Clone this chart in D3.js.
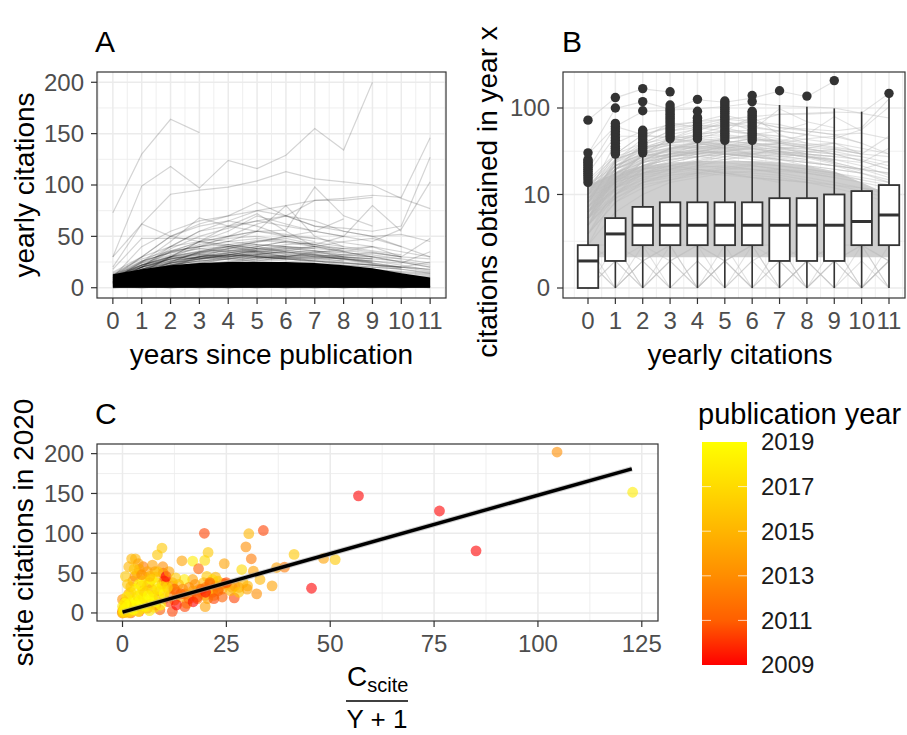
<!DOCTYPE html>
<html>
<head>
<meta charset="utf-8">
<script src="https://cdn.jsdelivr.net/npm/d3@7"></script>
<style>
  body { margin: 0; background: #fff; }
  svg { font-family: "Liberation Sans", Arial, sans-serif; }
</style>
</head>
<body>
<svg id="fig" width="907" height="735"></svg>
<script>
// ---- data ----
const yearTicks = [0, 1, 2, 3, 4, 5, 6, 7, 8, 9, 10, 11];

// panel A: yearly citations per paper, index = years since publication
const trajHigh = [
  [73, 130, 164, 151],
  [30, 99, 118, 97, 124, 116, 129, 155, 134, 200],
  [20, 62, 91, 95, 98, 104, 113, 106, 103, 100, 87, 77],
  [12, 30, 50, 62, 70, 75, 80, 85, 87, 90, 88, 146],
  [8, 25, 40, 55, 60, 65, 70, 60, 58, 55, 60, 127],
  [10, 22, 35, 45, 55, 70, 62, 55, 50, 45, 57, 103],
  [5, 15, 30, 45, 50, 55, 56, 98, 70, 60],
  [10, 30, 50, 60, 65, 75, 70, 85, 85, 88],
  [6, 20, 35, 40, 45, 55, 80, 50, 40],
  [4, 18, 30, 45, 60, 72, 55, 40, 35, 30, 25, 20],
  [10, 40, 55, 65, 70, 83, 70, 60, 55, 50, 52, 45],
  [30, 62, 50, 45, 40, 35, 30],
  [18, 48, 48, 48, 45, 42],
  [5, 10, 15, 20, 25, 30, 30, 35, 35, 40, 30, 48],
  [3, 12, 25, 35, 40, 45, 50, 55, 67],
  [2, 10, 20, 30, 35, 40, 45, 42, 50, 80, 55],
  [8, 25, 45, 68, 60, 55, 50, 45],
  [6, 20, 40, 55, 65, 60, 50],
  [5, 20, 38, 50, 58, 65, 60, 55, 50],
  [4, 15, 30, 40, 50, 62, 70, 65, 55, 50, 40]
];
const trajMid = [
  [8, 18, 25, 30, 28, 32, 30, 26, 22, 20, 18, 15],
  [10, 20, 30, 35, 38, 40, 35, 30, 28, 25],
  [6, 15, 22, 28, 32, 30, 28, 25],
  [12, 25, 35, 40, 42, 38, 35],
  [5, 12, 20, 25, 30, 35, 38, 40, 35, 30, 25, 20],
  [7, 18, 28, 33, 36, 40, 45, 42, 38, 35, 30],
  [9, 22, 30, 36, 40, 42, 40, 36, 30],
  [4, 10, 18, 22, 25, 28, 30, 32, 30, 28, 26, 22],
  [11, 24, 32, 38, 35, 30, 28],
  [6, 14, 22, 30, 38, 45, 48, 42, 36],
  [8, 20, 26, 30, 32, 35, 38, 36, 32, 30, 28],
  [5, 16, 24, 28, 30, 33, 35, 32, 28, 24, 20, 18],
  [14, 28, 36, 40, 45, 48, 45],
  [3, 8, 14, 18, 22, 26, 30, 34, 38, 40, 35, 30],
  [7, 16, 22, 26, 30, 32, 30, 28, 30, 28],
  [10, 26, 34, 42, 48, 50, 46, 40],
  [6, 12, 20, 24, 28, 26, 24, 22, 20, 18, 16, 14],
  [4, 14, 24, 30, 34, 38, 42, 44, 40, 36, 32],
  [12, 20, 28, 32, 36, 34, 30, 28, 26],
  [8, 22, 30, 28, 32, 36, 40, 38],
  [5, 18, 26, 34, 40, 44, 50, 48, 44, 40],
  [9, 14, 18, 22, 26, 30, 28, 26, 24, 22, 20, 25],
  [15, 30, 40, 45, 42, 38],
  [7, 20, 28, 32, 30, 28, 26, 24, 22, 20, 18],
  [3, 10, 16, 20, 24, 28, 32, 30, 28, 26, 24, 35],
  [10, 18, 24, 28, 32, 36, 34, 32, 30, 28],
  [6, 16, 25, 35, 42, 46, 44, 40, 38],
  [8, 24, 36, 44, 50, 55, 52, 48],
  [4, 12, 18, 24, 28, 32, 36, 40, 45, 48, 40, 30],
  [11, 22, 28, 30, 32, 30, 28, 26, 24, 22, 20],
  [5, 15, 20, 22, 24, 26, 28, 30, 32, 34, 30, 28],
  [13, 26, 34, 38, 40, 36],
  [7, 14, 22, 28, 34, 38, 36, 34, 32, 30],
  [9, 20, 28, 34, 38, 42, 40, 38, 36, 34, 30],
  [6, 18, 24, 28, 30, 32, 34, 36, 34, 32, 28, 24],
  [10, 22, 30, 34, 36, 38, 40],
  [12, 18, 22, 26, 28, 30, 32, 30, 28, 26],
  [8, 16, 22, 26, 28, 30, 28, 26, 24, 22, 20, 18],
  [6, 12, 16, 18, 20, 18, 16, 15, 14, 12, 10, 8],
  [4, 10, 14, 16, 18, 20, 22, 20, 18, 16, 14, 12],
  [8, 14, 18, 20, 20, 18, 16, 14],
  [5, 9, 13, 15, 17, 19, 18, 17, 15, 13, 11, 9],
  [3, 8, 12, 15, 18, 20, 20, 18, 16, 14, 12, 10],
  [7, 13, 17, 19, 21, 22, 20, 18],
  [9, 16, 20, 22, 20, 18, 17, 16, 14],
  [2, 6, 10, 14, 16, 18, 19, 20, 19, 17, 15, 13],
  [6, 11, 15, 17, 18, 17, 16, 15, 14, 13, 12, 11],
  [10, 15, 18, 20, 22, 21, 20, 19, 18],
  [4, 9, 14, 17, 19, 21, 23, 22, 20, 18, 15],
  [5, 12, 17, 21, 23, 24, 22, 20, 18, 16],
  [9, 18, 26, 30, 33, 31, 29, 27, 25, 22, 18, 14],
  [7, 15, 24, 31, 34, 36, 33, 31, 28, 24, 20, 16],
  [11, 20, 27, 29, 31, 33, 35, 32, 27, 23, 19],
  [6, 17, 29, 33, 30, 34, 37, 33, 29, 25],
  [13, 22, 31, 35, 37, 35, 31, 29, 26],
  [5, 13, 21, 27, 32, 37, 39, 35, 30, 26, 22, 17]
];
const trajLow = [
  [0, 1, 2, 1, 0, 1, 2, 1, 0, 1, 2, 1],
  [2, 0, 1, 2, 0, 1, 2, 0, 1, 2, 0, 1],
  [1, 2, 0, 1, 2, 0, 1, 2, 0, 1, 2, 0],
  [0, 2, 0, 2, 0, 2, 0, 2, 0, 2, 0, 2],
  [2, 1, 0, 1, 2, 1, 0, 1, 2, 1, 0, 1],
  [1, 0, 2, 0, 1, 0, 2, 0, 1, 0, 2, 0],
  [0, 0, 1, 2, 2, 1, 0, 0, 1, 2, 2, 1],
  [2, 2, 1, 0, 0, 1, 2, 2, 1, 0, 0, 1],
  [0, 1, 0, 1, 0, 1, 0, 1, 0, 1, 0, 1],
  [1, 0, 1, 0, 1, 0, 1, 0, 1, 0, 1, 0]
];
// upper edge of the solid mass of overlapping low-citation papers
const coreTop = [13, 18, 22, 24, 25, 25, 25, 24, 22, 19, 14, 10];

// panel B: boxplot statistics per year
const boxLo = [0, 0, 0, 0, 0, 0, 0, 0, 0, 0, 0, 0];
const boxQ1 = [0, 1, 2, 2, 2, 2, 2, 1, 1, 1, 2, 2];
const boxMed = [1, 3, 4, 4, 4, 4, 4, 4, 4, 4, 4.5, 5.5];
const boxQ3 = [2, 5, 7, 8, 8, 8, 8, 9, 9, 10, 11, 13];
const boxHi = [13, 28, 30, 43, 43, 42, 42, 108, 103, 99, 91, 134];
const boxOut = [
  [14, 15, 16, 17, 18, 19, 20, 21, 22, 23, 24, 25, 26, 31, 73],
  [30, 31, 33, 35, 37, 40, 43, 46, 50, 54, 58, 62, 67, 100, 131],
  [31, 33, 35, 37, 39, 41, 44, 47, 50, 53, 56, 93, 118, 165],
  [45, 48, 51, 54, 57, 60, 64, 68, 72, 76, 80, 85, 90, 95, 100, 108, 152],
  [45, 48, 51, 54, 57, 60, 64, 68, 72, 76, 78, 92, 125],
  [43, 46, 49, 52, 55, 58, 62, 66, 70, 74, 78, 82, 87, 92, 97, 102, 108, 114, 120],
  [43, 46, 49, 52, 55, 58, 62, 66, 70, 74, 78, 83, 88, 92, 118, 138],
  [156],
  [136],
  [203],
  [],
  [146]
];

// panel C: [C_scite / (Y + 1), scite citations in 2020, publication year]
const papers = [
  [104.6, 202, 2013], [122.8, 151.5, 2018], [76.3, 128, 2009], [85.1, 78, 2009],
  [56.8, 147, 2009], [45.5, 31, 2009], [51.2, 67, 2016], [48.4, 68.5, 2014],
  [41.3, 73.5, 2016], [39, 57.5, 2012], [37.1, 57, 2014], [36, 34, 2014],
  [33.9, 103.5, 2010], [30.4, 99.5, 2015], [29.7, 83, 2013], [31, 68, 2012],
  [31.5, 52.5, 2014], [28.7, 54.5, 2017], [33.1, 42, 2015], [30.1, 34, 2015],
  [32.3, 24, 2013], [26.9, 19, 2010], [24.5, 62, 2014], [24.3, 37, 2011],
  [20.6, 76, 2016], [19.7, 100, 2010], [19.8, 66, 2017], [20.3, 46, 2016],
  [22.4, 45, 2015], [19.9, 8, 2014], [16.9, 65, 2018], [14.3, 65.5, 2014],
  [18.3, 55.5, 2011], [9.5, 81.5, 2016], [8.4, 73, 2016], [3.1, 68, 2015],
  [2.2, 68, 2015], [0.7, 46, 2016], [9.8, 50, 2010], [9.7, 58, 2013],
  [7.8, 52, 2014], [5, 58, 2012], [16.9, 42, 2014], [14.9, 42, 2018],
  [12, 38, 2014], [21.7, 42, 2017], [26.4, 32, 2014], [28, 32, 2013],
  [21.7, 26, 2011], [23.3, 32, 2012], [19.9, 22, 2014],
  [0, 2, 2012], [0.3, 6, 2013], [0.6, 14, 2014], [0, 17, 2013], [1, 10, 2012],
  [1.5, 24, 2014], [2, 33, 2015], [2.5, 40, 2014], [3, 46, 2013], [3.5, 50, 2015],
  [4, 55, 2014], [4.5, 34, 2012], [5, 28, 2013], [5.5, 45, 2015], [6, 52, 2014],
  [6.5, 38, 2013], [7, 30, 2012], [7.5, 22, 2014], [8, 45, 2015], [8.5, 52, 2016],
  [9, 28, 2013], [9.5, 36, 2014], [10, 18, 2012], [10.5, 42, 2015], [11, 30, 2013],
  [11.5, 22, 2012], [12, 34, 2014], [12.5, 16, 2013], [13, 26, 2012], [13.5, 36, 2015],
  [14, 20, 2014], [14.5, 30, 2013], [15, 24, 2012], [15.5, 12, 2014], [16, 32, 2013],
  [16.5, 22, 2015], [17, 28, 2014], [17.5, 36, 2013], [18, 18, 2012], [18.5, 30, 2014],
  [19, 26, 2013], [19.5, 38, 2015], [20, 32, 2012], [20.5, 18, 2014], [21, 36, 2013],
  [21.5, 28, 2015], [22, 22, 2014], [22.5, 34, 2013], [23, 40, 2016], [24, 30, 2014],
  [25, 36, 2013], [26, 28, 2015], [27, 34, 2014], [28, 26, 2016], [29, 38, 2015],
  [30, 30, 2014],
  [0, 0, 2009], [0.5, 1, 2010], [2, 0, 2011], [4, 2, 2010], [6, 6, 2011],
  [8, 10, 2009], [9, 4, 2011], [10, 40, 2010], [10.5, 46, 2009], [11, 14, 2010],
  [12, 2, 2010], [12.5, 30, 2011], [13, 10, 2009], [14, 24, 2011], [15, 8, 2010],
  [16, 18, 2011], [17, 14, 2009], [18, 20, 2010], [19, 30, 2011], [20, 26, 2009],
  [21, 38, 2011], [22, 18, 2010], [23, 28, 2011], [25, 38, 2010], [24, 20, 2011],
  [0, 0, 2019], [0.2, 2, 2018], [0.4, 4, 2019], [0.6, 1, 2017], [0.8, 6, 2019],
  [1, 3, 2018], [1.2, 9, 2019], [1.4, 0, 2016], [1.6, 5, 2019], [1.8, 12, 2018],
  [2, 2, 2017], [2.2, 8, 2019], [2.4, 15, 2018], [2.6, 4, 2019], [2.8, 10, 2017],
  [3, 18, 2019], [3.2, 6, 2018], [3.4, 13, 2019], [3.6, 21, 2017], [3.8, 2, 2019],
  [4, 9, 2018], [4.2, 16, 2019], [4.4, 24, 2018], [4.6, 5, 2017], [4.8, 12, 2019],
  [5, 19, 2018], [5.3, 27, 2017], [5.6, 8, 2019], [5.9, 15, 2018], [6.2, 22, 2019],
  [6.5, 3, 2018], [6.8, 11, 2017], [7.1, 18, 2019], [7.4, 26, 2018], [7.7, 7, 2017],
  [8, 14, 2019], [8.4, 30, 2018], [8.8, 20, 2017], [9.2, 10, 2019], [9.6, 33, 2018],
  [10, 24, 2019], [3, 30, 2018], [4, 36, 2019], [5, 40, 2018], [6, 34, 2017],
  [7, 42, 2019], [8, 38, 2018], [2, 26, 2017], [1, 20, 2018], [0.5, 12, 2019], [0, 8, 2018],
  [1.5, 58, 2015], [3.8, 62, 2014], [2.8, 55, 2016], [4.6, 48, 2013], [1.2, 36, 2016],
  [6.6, 46, 2015], [7.2, 60, 2014], [11.2, 52, 2014], [12.8, 44, 2016], [10.8, 32, 2017]
];
// linear fit drawn through the scatter (end points)
const fitLine = [[0, 1], [122.6, 181]];
const legendYears = [2009, 2011, 2013, 2015, 2017, 2019];

// ---- drawing ----
const svg = d3.select("#fig");
const tickCol = "#4d4d4d", gridCol = "#ebebeb", frameCol = "#333333";

function gridLines(g, box, xs, ys, w) {
  g.selectAll(null).data(xs).join("line")
    .attr("x1", d => d).attr("x2", d => d).attr("y1", box.top).attr("y2", box.bottom)
    .attr("stroke", gridCol).attr("stroke-width", w);
  g.selectAll(null).data(ys).join("line")
    .attr("y1", d => d).attr("y2", d => d).attr("x1", box.left).attr("x2", box.right)
    .attr("stroke", gridCol).attr("stroke-width", w);
}

function frame(g, box) {
  g.append("rect")
    .attr("x", box.left).attr("y", box.top)
    .attr("width", box.right - box.left).attr("height", box.bottom - box.top)
    .attr("fill", "none").attr("stroke", frameCol).attr("stroke-width", 1.2);
}

function axes(g, box, x, y, xTicks, yTicks) {
  g.selectAll(null).data(xTicks).join("line")
    .attr("x1", d => x(d)).attr("x2", d => x(d))
    .attr("y1", box.bottom).attr("y2", box.bottom + 6)
    .attr("stroke", frameCol).attr("stroke-width", 1.2);
  g.selectAll(null).data(xTicks).join("text")
    .attr("x", d => x(d)).attr("y", box.bottom + 31)
    .attr("text-anchor", "middle").attr("font-size", 24).attr("fill", tickCol)
    .text(d => d);
  g.selectAll(null).data(yTicks).join("line")
    .attr("x1", box.left - 6).attr("x2", box.left)
    .attr("y1", d => y(d)).attr("y2", d => y(d))
    .attr("stroke", frameCol).attr("stroke-width", 1.2);
  g.selectAll(null).data(yTicks).join("text")
    .attr("x", box.left - 13).attr("y", d => y(d)).attr("dy", "0.35em")
    .attr("text-anchor", "end").attr("font-size", 24).attr("fill", tickCol)
    .text(d => d);
}

function title(g, txt, x, y, rotate) {
  g.append("text")
    .attr("transform", `translate(${x},${y})` + (rotate ? " rotate(-90)" : ""))
    .attr("text-anchor", "middle").attr("font-size", 28).attr("fill", "#000")
    .text(txt);
}

function tag(txt, x, y) {
  svg.append("text").attr("x", x).attr("y", y)
    .attr("font-size", 30).attr("fill", "#000").text(txt);
}

const allTraj = trajLow.concat(trajMid, trajHigh);
const halves = yearTicks.map(d => d - 0.5).concat([11.5]);

// ===== panel A =====
const boxA = {left: 97, right: 446, top: 72, bottom: 298};
const aX = d3.scaleLinear().domain([-0.55, 11.55]).range([boxA.left, boxA.right]);
const aY = d3.scaleLinear().domain([-10, 210]).range([boxA.bottom, boxA.top]);
const gA = svg.append("g");
gridLines(gA, boxA, halves.map(aX).filter(v => v > boxA.left), [25, 75, 125, 175].map(aY), 0.8);
gridLines(gA, boxA, yearTicks.map(aX), [0, 50, 100, 150, 200].map(aY), 1.5);

svg.append("clipPath").attr("id", "clipA").append("rect")
  .attr("x", boxA.left).attr("y", boxA.top)
  .attr("width", boxA.right - boxA.left).attr("height", boxA.bottom - boxA.top);
const linesA = gA.append("g").attr("clip-path", "url(#clipA)");
linesA.append("path").datum(coreTop)
  .attr("d", d3.area().x((d, i) => aX(i)).y0(aY(0)).y1(d => aY(d)))
  .attr("fill", "#000");
const lineA = d3.line().x((d, i) => aX(i)).y(d => aY(d));
linesA.selectAll(null).data(allTraj).join("path")
  .attr("d", lineA).attr("fill", "none")
  .attr("stroke", "#000").attr("stroke-opacity", 0.17).attr("stroke-width", 1.2);
frame(gA, boxA);
axes(gA, boxA, aX, aY, yearTicks, [0, 50, 100, 150, 200]);
title(gA, "years since publication", (boxA.left + boxA.right) / 2, 364);
title(gA, "yearly citations", 34, (boxA.top + boxA.bottom) / 2, true);
tag("A", 95, 52);

// ===== panel B =====
const boxB = {left: 563, right: 905, top: 72, bottom: 298};
const bX = d3.scaleLinear().domain([0, 11]).range([588, 889]);
const bY = d3.scaleSymlog().constant(1).domain([0, 100]).range([288, 108]);
const gB = svg.append("g");
const bMaj = [0, 10, 100];
const bMin = [(bY(0) + bY(10)) / 2, (bY(10) + bY(100)) / 2];
gridLines(gB, boxB, halves.map(bX), bMin, 0.8);
gridLines(gB, boxB, yearTicks.map(bX), bMaj.map(bY), 1.5);

svg.append("clipPath").attr("id", "clipB").append("rect")
  .attr("x", boxB.left).attr("y", boxB.top)
  .attr("width", boxB.right - boxB.left).attr("height", boxB.bottom - boxB.top);
const linesB = gB.append("g").attr("clip-path", "url(#clipB)");
linesB.append("path").datum(coreTop)
  .attr("d", d3.area().x((d, i) => bX(i)).y0(bY(1.2)).y1(d => bY(d)))
  .attr("fill", "#cfcfcf");
linesB.selectAll(null).data(allTraj).join("path")
  .attr("d", d3.line().x((d, i) => bX(i)).y(d => bY(d)))
  .attr("fill", "none").attr("stroke", "#bdbdbd")
  .attr("stroke-opacity", 0.45).attr("stroke-width", 1.1);

const bw = (bX(1) - bX(0)) * 0.75;
const boxes = gB.append("g");
yearTicks.forEach((yr, i) => {
  const cx = bX(yr);
  boxes.append("line").attr("x1", cx).attr("x2", cx)
    .attr("y1", bY(boxHi[i])).attr("y2", bY(boxQ3[i]))
    .attr("stroke", frameCol).attr("stroke-width", 1.6);
  boxes.append("line").attr("x1", cx).attr("x2", cx)
    .attr("y1", bY(boxQ1[i])).attr("y2", bY(boxLo[i]))
    .attr("stroke", frameCol).attr("stroke-width", 1.6);
  boxes.append("rect")
    .attr("x", cx - bw / 2).attr("width", bw)
    .attr("y", bY(boxQ3[i])).attr("height", bY(boxQ1[i]) - bY(boxQ3[i]))
    .attr("fill", "#fff").attr("stroke", frameCol).attr("stroke-width", 1.8);
  boxes.append("line").attr("x1", cx - bw / 2).attr("x2", cx + bw / 2)
    .attr("y1", bY(boxMed[i])).attr("y2", bY(boxMed[i]))
    .attr("stroke", frameCol).attr("stroke-width", 3);
  boxes.selectAll(null).data(boxOut[i]).join("circle")
    .attr("cx", cx).attr("cy", d => bY(d)).attr("r", 4.7)
    .attr("fill", frameCol);
});
frame(gB, boxB);
axes(gB, boxB, bX, bY, yearTicks, bMaj);
title(gB, "yearly citations", 740, 364);
title(gB, "citations obtained in year x", 497, 192, true);
tag("B", 562, 52);

// ===== panel C =====
const boxC = {left: 97, right: 658, top: 444, bottom: 621};
const cX = d3.scaleLinear().domain([-6.14, 128.9]).range([boxC.left, boxC.right]);
const cY = d3.scaleLinear().domain([-10.1, 212.1]).range([boxC.bottom, boxC.top]);
const colour = d3.scaleLinear().domain([2009, 2019]).range(["#ff0000", "#ffff00"])
  .interpolate(d3.interpolateLab);
const gC = svg.append("g");
gridLines(gC, boxC, [12.5, 37.5, 62.5, 87.5, 112.5].map(cX), [25, 75, 125, 175].map(cY), 0.8);
gridLines(gC, boxC, [0, 25, 50, 75, 100, 125].map(cX), [0, 50, 100, 150, 200].map(cY), 1.5);

gC.selectAll(null).data(papers).join("circle")
  .attr("cx", d => cX(d[0])).attr("cy", d => cY(d[1])).attr("r", 5.4)
  .attr("fill", d => colour(d[2])).attr("fill-opacity", 0.6);

const fitPath = d3.line().x(d => cX(d[0])).y(d => cY(d[1]));
gC.append("path").datum(fitLine).attr("d", fitPath)
  .attr("stroke", "#999").attr("stroke-opacity", 0.5).attr("stroke-width", 5.5).attr("fill", "none");
gC.append("path").datum(fitLine).attr("d", fitPath)
  .attr("stroke", "#000").attr("stroke-width", 3.4).attr("fill", "none");
frame(gC, boxC);
axes(gC, boxC, cX, cY, [0, 25, 50, 75, 100, 125], [0, 50, 100, 150, 200]);
title(gC, "scite citations in 2020", 33, (boxC.top + boxC.bottom) / 2, true);
tag("C", 95, 424);

// fraction axis title  C_scite / (Y + 1)
const frac = gC.append("g");
const fracText = frac.append("text").attr("x", 347).attr("y", 686).attr("font-size", 28).attr("fill", "#000");
fracText.append("tspan").text("C");
fracText.append("tspan").attr("font-size", 20).attr("dy", 6).text("scite");
frac.append("line").attr("x1", 346).attr("x2", 408).attr("y1", 701).attr("y2", 701)
  .attr("stroke", "#000").attr("stroke-width", 1.6);
frac.append("text").attr("x", 377).attr("y", 728).attr("text-anchor", "middle")
  .attr("font-size", 26).attr("fill", "#000").text("Y + 1");

// ===== colour legend =====
const legY = d3.scaleLinear().domain([2009, 2019]).range([665, 442]);
const defs = svg.append("defs");
const grad = defs.append("linearGradient").attr("id", "yearGrad")
  .attr("x1", 0).attr("y1", 1).attr("x2", 0).attr("y2", 0);
grad.selectAll("stop").data(legendYears).join("stop")
  .attr("offset", d => (d - 2009) / 10).attr("stop-color", d => colour(d));
const gL = svg.append("g");
gL.append("text").attr("x", 698).attr("y", 424).attr("font-size", 29).attr("fill", "#000")
  .text("publication year");
gL.append("rect").attr("x", 702).attr("y", legY(2019)).attr("width", 45)
  .attr("height", legY(2009) - legY(2019)).attr("fill", "url(#yearGrad)");
gL.selectAll(null).data(legendYears.slice(1, -1)).join("g")
  .each(function(d) {
    const g = d3.select(this);
    g.append("line").attr("x1", 702).attr("x2", 711).attr("y1", legY(d)).attr("y2", legY(d));
    g.append("line").attr("x1", 738).attr("x2", 747).attr("y1", legY(d)).attr("y2", legY(d));
  })
  .selectAll("line").attr("stroke", "#fff").attr("stroke-opacity", 0.7).attr("stroke-width", 1);
gL.selectAll(null).data(legendYears).join("text")
  .attr("x", 761).attr("y", d => legY(d)).attr("dy", "0.35em")
  .attr("font-size", 24).attr("fill", "#1a1a1a").text(d => d);
</script>
</body>
</html>
